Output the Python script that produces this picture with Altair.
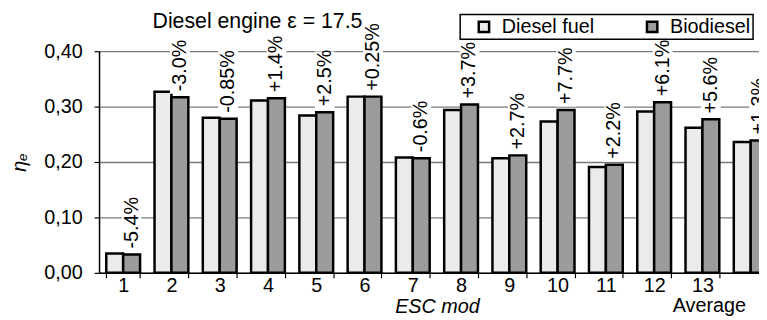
import altair as alt
import pandas as pd

FONT = "Liberation Sans"

categories = ["1", "2", "3", "4", "5", "6", "7", "8", "9", "10", "11", "12", "13", "Average"]
diesel = [0.035, 0.327, 0.280, 0.311, 0.284, 0.318, 0.208, 0.294, 0.207, 0.273, 0.191, 0.291, 0.262, 0.236]
biodiesel = [0.033, 0.317, 0.278, 0.315, 0.290, 0.318, 0.207, 0.304, 0.212, 0.294, 0.195, 0.308, 0.277, 0.239]
changes = ["-5.4%", "-3.0%", "-0.85%", "+1.4%", "+2.5%", "+0.25%", "-0.6%", "+3.7%",
           "+2.7%", "+7.7%", "+2.2%", "+6.1%", "+5.6%", "+1.3%"]
series_names = ["Diesel fuel", "Biodiesel"]
series_colors = ["#ebebeb", "#9c9c9c"]
y_ticks = [0.0, 0.1, 0.2, 0.3, 0.4]
X_TITLE = "ESC mod"
Y_TITLE = "ηₑ"

rows = []
for c, d, b in zip(categories, diesel, biodiesel):
    rows.append({"cat": c, "series": series_names[0], "value": d})
    rows.append({"cat": c, "series": series_names[1], "value": b})
bars_df = pd.DataFrame(rows)
lab_df = pd.DataFrame({"cat": categories, "series": series_names[1],
                       "value": biodiesel, "label": changes})
avg_df = pd.DataFrame({"cat": [categories[12]], "t": [categories[13]]})

x_scale = alt.Scale(domain=categories, range=[0, 683], paddingInner=0.3, paddingOuter=0.15)
xo_scale = alt.Scale(domain=series_names, paddingInner=0, paddingOuter=0)
y_scale = alt.Scale(domain=[0, 0.4], nice=False, zero=True)

x_axis = alt.Axis(title=X_TITLE, titleFontStyle="italic", titleFontWeight="normal",
                  titleFontSize=20, titleFont=FONT, titleColor="black", titlePadding=1,
                  labelAngle=0, labelFontSize=20, labelFont=FONT, labelColor="black",
                  labelPadding=-2, tickBand="extent", tickSize=5, tickColor="black",
                  domainColor="black", domainWidth=1.5, tickWidth=1.2, grid=False,
                  labelExpr="datum.value == 'Average' ? '' : datum.value")
y_axis = alt.Axis(title=Y_TITLE, titleFontStyle="italic", titleFontWeight="normal",
                  titleFontSize=20, titleFont=FONT, titleColor="black", titleAngle=270,
                  titlePadding=14, values=y_ticks,
                  labelExpr="replace(format(datum.value, '.2f'), '.', ',')",
                  labelFontSize=20, labelFont=FONT, labelColor="black", labelPadding=12,
                  tickSize=5, tickColor="black", tickWidth=1.2,
                  domainColor="black", domainWidth=1.5,
                  grid=True, gridColor="#7a7a7a", gridWidth=1.3)

bars = alt.Chart(bars_df).mark_bar(stroke="black", strokeWidth=2.5).encode(
    x=alt.X("cat:N", scale=x_scale, sort=categories, axis=x_axis),
    xOffset=alt.XOffset("series:N", scale=xo_scale, sort=series_names),
    y=alt.Y("value:Q", scale=y_scale, axis=y_axis),
    fill=alt.Fill("series:N", scale=alt.Scale(domain=series_names, range=series_colors),
                  legend=alt.Legend(title=None, orient="none", legendX=365, legendY=-37,
                                    direction="horizontal", symbolType="square", symbolSize=110,
                                    symbolStrokeColor="black", symbolStrokeWidth=2.5,
                                    labelFontSize=20, labelFont=FONT, labelColor="black",
                                    labelOffset=8, strokeColor="black", padding=2,
                                    symbolOffset=12, columnPadding=36, fillColor="white")),
)

backing = alt.Chart(lab_df).transform_calculate(
    y0="datum.value + 0.006",
    y1="datum.value + 0.012 + length(datum.label) * 0.0195",
).mark_rule(color="white", strokeWidth=20).encode(
    x=alt.X("cat:N", scale=x_scale, sort=categories, title=X_TITLE),
    xOffset=alt.XOffset("series:N", scale=xo_scale, sort=series_names),
    y=alt.Y("y0:Q", scale=y_scale, title=Y_TITLE),
    y2="y1:Q",
)

labels = alt.Chart(lab_df).mark_text(angle=270, align="left", baseline="middle", dx=6,
                                     fontSize=20, font=FONT, color="black").encode(
    x=alt.X("cat:N", scale=x_scale, sort=categories, title=X_TITLE),
    xOffset=alt.XOffset("series:N", scale=xo_scale, sort=series_names),
    y=alt.Y("value:Q", scale=y_scale, title=Y_TITLE),
    text="label:N",
)

avg_text = alt.Chart(avg_df).mark_text(fontSize=20, font=FONT, color="black", dx=7,
                                       baseline="middle").encode(
    x=alt.X("cat:N", scale=x_scale, sort=categories, title=X_TITLE),
    y=alt.value(258),
    text="t:N",
)

chart = alt.layer(bars, backing, labels, avg_text).properties(
    width=667, height=224,
    title=alt.Title("Diesel engine ε = 17.5", anchor="start", dx=144, dy=19, fontSize=21.5,
                    fontWeight="normal", font=FONT, color="black", offset=0),
    autosize=alt.AutoSizeParams(type="none"),
    padding={"left": 92, "top": 42, "right": 0, "bottom": 46},
).configure_view(stroke=None).configure_legend(strokeWidth=1.5)

chart.save("out.html", embed_options={"renderer": "svg", "actions": False})
